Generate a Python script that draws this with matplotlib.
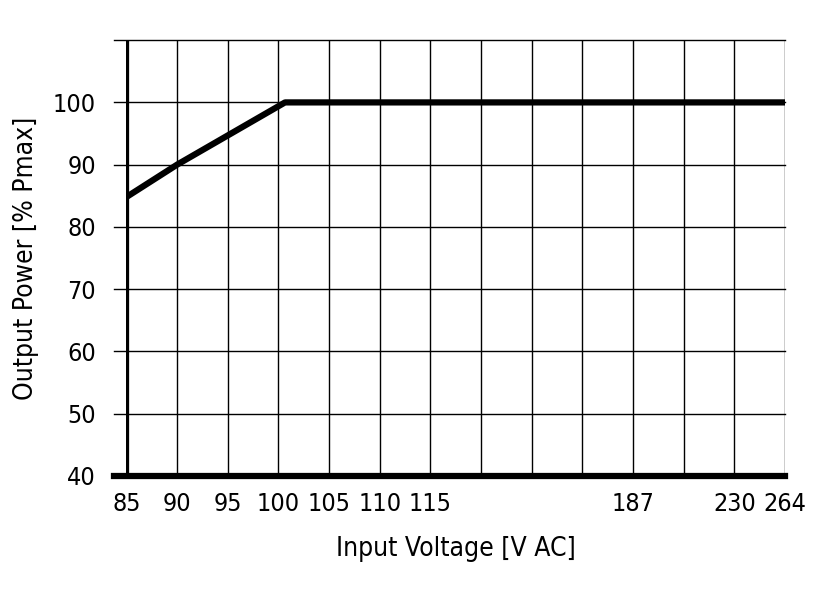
import matplotlib
matplotlib.use("Agg")
import matplotlib.pyplot as plt

# evenly spaced tick positions, labels as on the chart
tick_labels = ["85", "90", "95", "100", "105", "110", "115", "", "", "", "187", "", "230", "264"]
y_ticks = [40, 50, 60, 70, 80, 90, 100]
# curve in tick-index units
curve_x = [0, 1, 3.13, 13]
curve_y = [84.8, 90, 100, 100]

plt.rcParams['font.family'] = ['DejaVu Sans']
plt.rcParams['font.stretch'] = 'condensed'

fig, ax = plt.subplots(figsize=(8.16, 5.91), dpi=100)
fig.subplots_adjust(left=0.155, right=0.962, top=0.932, bottom=0.195)

for i in range(len(tick_labels)):
    ax.axvline(i, color='black', lw=1.0, zorder=1)
for v in range(40, 111, 10):
    ax.plot([-0.25, 13], [v, v], color='black', lw=1.0 if v != 40 else 4.5, clip_on=False, zorder=1)

ax.plot([0, 0], [40, 110], color='black', lw=4.5, zorder=3, solid_capstyle='butt')
ax.plot(curve_x, curve_y, color='black', lw=4.5, zorder=4, solid_capstyle='butt')

ax.set_xlim(0, 13)
ax.set_ylim(40, 110)
ax.set_xticks(range(len(tick_labels)))
ax.set_xticklabels(tick_labels)
ax.set_yticks(y_ticks)
for s in ax.spines.values():
    s.set_visible(False)
ax.tick_params(axis='both', length=0, labelsize=18)
ax.tick_params(axis='x', pad=12)
ax.tick_params(axis='y', pad=22)
ax.set_xlabel("Input Voltage [V AC]", fontsize=19, labelpad=14)
ax.set_ylabel("Output Power [% Pmax]", fontsize=19, labelpad=10)

fig.savefig("out.png", dpi=100)
